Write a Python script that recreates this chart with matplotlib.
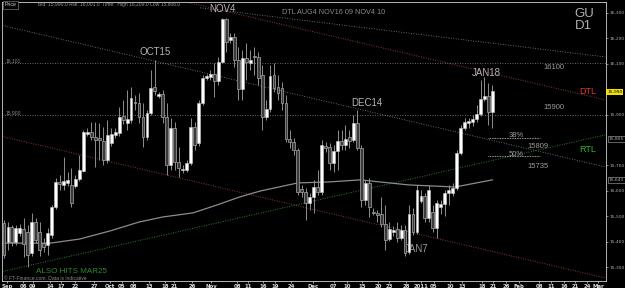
import numpy as np
import matplotlib.pyplot as plt
from matplotlib.transforms import blended_transform_factory

# daily GBP/USD candles, Sep 2010 - Jan 2011
opens = [15473, 15398, 15457, 15398, 15434, 15450, 15438, 15355, 15477, 15438,
         15394, 15387, 15426, 15536, 15635, 15623, 15631, 15623, 15619, 15646,
         15678, 15824, 15832, 15812, 15808, 15796, 15721, 15788, 15820, 15828,
         15894, 15867, 15879, 15950, 15946, 15891, 15812, 15906, 16009, 15973,
         15981, 15891, 15702, 15847, 15713, 15682, 15682, 15709, 15851, 15788,
         15946, 16044, 16048, 16060, 16032, 16107, 16276, 16194, 16206, 16115,
         16001, 16123, 16103, 16131, 16127, 16056, 15891, 15922, 16056, 16009,
         16005, 15946, 15804, 15792, 15761, 15607, 15595, 15552, 15576, 15615,
         15595, 15776, 15772, 15709, 15757, 15796, 15780, 15812, 15800, 15867,
         15768, 15564, 15631, 15517, 15513, 15509, 15469, 15410, 15438, 15450,
         15414, 15446, 15359, 15509, 15438, 15560, 15580, 15493, 15517, 15454,
         15536, 15548, 15591, 15591, 15611, 15749, 15847, 15867, 15871, 15883,
         15902, 15961, 15973, 15910]
closes = [15347, 15457, 15398, 15454, 15454, 15391, 15347, 15477, 15406, 15367,
          15379, 15434, 15536, 15635, 15627, 15639, 15643, 15552, 15646, 15682,
          15832, 15832, 15812, 15800, 15800, 15721, 15820, 15824, 15832, 15891,
          15879, 15883, 15965, 15946, 15891, 15812, 15906, 16005, 15993, 15981,
          15891, 15702, 15847, 15713, 15690, 15686, 15709, 15851, 15780, 15946,
          16044, 16052, 16060, 16032, 16107, 16276, 16186, 16206, 16115, 16001,
          16123, 16107, 16115, 16127, 16044, 15891, 15922, 16052, 16005, 15985,
          15946, 15804, 15792, 15761, 15595, 15595, 15552, 15576, 15615, 15595,
          15780, 15768, 15709, 15757, 15796, 15780, 15804, 15796, 15867, 15768,
          15564, 15631, 15536, 15513, 15505, 15469, 15406, 15450, 15446, 15414,
          15446, 15355, 15509, 15438, 15603, 15580, 15493, 15603, 15454, 15552,
          15548, 15591, 15603, 15611, 15749, 15847, 15871, 15875, 15883, 15902,
          15961, 15973, 15910, 15992]
highs = [15485, 15477, 15465, 15465, 15469, 15493, 15465, 15513, 15493, 15477,
         15414, 15454, 15544, 15650, 15662, 15733, 15674, 15690, 15662, 15741,
         15839, 15847, 15871, 15871, 15867, 15851, 15879, 15847, 15847, 15930,
         15958, 15997, 16009, 15977, 15985, 15946, 15918, 16076, 16115, 15989,
         15997, 15946, 15887, 15871, 15772, 15702, 15721, 15887, 15871, 15958,
         16056, 16060, 16076, 16103, 16127, 16280, 16280, 16221, 16221, 16166,
         16154, 16182, 16154, 16166, 16146, 16095, 15958, 16095, 16103, 16056,
         16028, 15977, 15839, 15808, 15768, 15623, 15611, 15591, 15643, 15682,
         15800, 15792, 15788, 15780, 15839, 15839, 15859, 15839, 15898, 15918,
         15780, 15643, 15650, 15532, 15524, 15576, 15544, 15477, 15461, 15477,
         15465, 15465, 15544, 15532, 15623, 15603, 15591, 15623, 15544, 15564,
         15564, 15603, 15623, 15631, 15761, 15859, 15887, 15887, 15898, 15938,
         16036, 16048, 16024, 16017]
lows = [15335, 15367, 15383, 15387, 15422, 15339, 15300, 15343, 15394, 15343,
        15359, 15347, 15414, 15528, 15603, 15603, 15619, 15536, 15611, 15639,
        15674, 15816, 15800, 15694, 15721, 15702, 15709, 15776, 15808, 15816,
        15863, 15839, 15867, 15918, 15867, 15772, 15800, 15898, 15977, 15965,
        15867, 15662, 15682, 15682, 15654, 15670, 15674, 15702, 15761, 15776,
        15938, 16036, 16036, 15969, 16017, 16103, 16146, 16182, 16087, 15958,
        15958, 16036, 16076, 16056, 16017, 15839, 15879, 15910, 15989, 15958,
        15918, 15792, 15768, 15741, 15583, 15576, 15485, 15524, 15513, 15583,
        15583, 15753, 15682, 15674, 15682, 15761, 15761, 15768, 15792, 15761,
        15536, 15544, 15497, 15505, 15477, 15457, 15367, 15402, 15422, 15398,
        15406, 15343, 15351, 15426, 15430, 15552, 15477, 15477, 15438, 15414,
        15509, 15501, 15544, 15580, 15603, 15741, 15839, 15847, 15855, 15871,
        15894, 15954, 15859, 15847]

# moving average (solid grey line), sampled at bar numbers
ma_bar = [-1, 11.6, 19, 26.7, 34, 40, 47.6, 53.6, 59.4, 64.5, 74, 82, 89.7, 102, 113.6, 123]
ma_val = [15394, 15394, 15410, 15442, 15477, 15497, 15513, 15544, 15576, 15599,
          15631, 15635, 15643, 15623, 15615, 15643]

# x axis labels and the bar number they sit under
date_labels = ['Sep', '06', '09', '14', '17', '22', '27', 'Oct', '05', '08', '13', '18', '21', '26',
               'Nov', '08', '11', '16', '19', '24', 'Dec', '07', '10', '15', '20', '23', '28',
               '2011', '05', '10', '13', '18', '21', '26', 'Feb', '08', '11', '16', '21', '24', 'Mar']
date_pos = [0.8, 4.8, 7.3, 11.6, 14.4, 17.9, 22.7, 26.7, 29.7, 32.5, 36.5, 40.6, 42.8, 47.4,
            52.1, 58.7, 61.5, 65.2, 68.3, 72.3, 77.8, 83.1, 86.4, 90.2, 94.2, 97.0, 101.3,
            105.0, 108.3, 112.3, 115.4, 120.4, 123.2, 126.4, 129.7, 134.8, 137.8, 141.1, 143.8, 146.9, 149.6]

price_ticks = [15300, 15400, 15500, 15600, 15700, 15900, 16100, 16200, 16300]
last_price = 15990

# trend lines: (bar0, price0, bar1, price1)
dtl_top = (43.6, 16351, 151.4, 15958)
dtl_long = (49.4, 16320, 151.4, 16127)
grey_tl = (-1, 16253, 151.4, 15694)
red_low = (-1, 15816, 151.4, 15257)
rtl = (-1, 15280, 151.4, 15820)
fib_levels = [15809, 15735]

BG = 'black'
fig = plt.figure(figsize=(6.25, 2.88), dpi=100, facecolor=BG)
ax = fig.add_axes([2 / 625, 7 / 288, 604 / 625, 279 / 288], facecolor=BG)
ax.set_xlim(-0.5, 151.6)
ax.set_ylim(15245, 16343)

# trend lines
def tline(t, **kw):
    ax.plot([t[0], t[2]], [t[1], t[3]], **kw)

tline(grey_tl, color='#8a8a8a', lw=0.6, ls=(0, (1, 2)))
tline(dtl_long, color='#8a8a8a', lw=0.6, ls=(0, (1, 2)))
tline(dtl_top, color='#8a3a30', lw=0.7, ls=(0, (1, 1.5)))
tline(red_low, color='#8a3a30', lw=0.7, ls=(0, (1, 1.5)))
tline(rtl, color='#2e7d2e', lw=0.7, ls=(0, (1, 1.5)))

for lvl in [16101, 15900]:
    ax.axhline(lvl, color='#8a8a8a', lw=0.6, ls=(0, (1, 2)))
for lvl in fib_levels:
    ax.plot([122, 135], [lvl, lvl], color='#cfcfcf', lw=0.6, ls=(0, (1, 1)))

ax.plot(ma_bar, ma_val, color='#8c8c8c', lw=0.9)

# candles
x = np.arange(len(opens))
o = np.array(opens)
c = np.array(closes)
up = c >= o
ax.vlines(x, lows, highs, color='#8e8e8e', lw=0.7, zorder=3)
bot = np.minimum(o, c)
hgt = np.maximum(np.abs(c - o), 5)
ax.bar(x[up], hgt[up], bottom=bot[up], width=0.72, color='white', edgecolor='#c8c8c8', lw=0.4, zorder=4)
ax.bar(x[~up], hgt[~up], bottom=bot[~up], width=0.72, color='#3a3a3a', edgecolor='#a8a8a8', lw=0.5, zorder=4)

# annotations
txt = dict(color='#b4b4b4', fontsize=7, family='Liberation Sans')
ax.text(55, 16305, 'NOV4', ha='center', **txt)
ax.text(38, 16135, 'OCT15', ha='center', **txt)
ax.text(91.5, 15935, 'DEC14', ha='center', **txt)
ax.text(121.5, 16050, 'JAN18', ha='center', **txt)
ax.text(104, 15360, 'JAN7', ha='center', color='#9a9a9a', fontsize=7, family='Liberation Sans')
ax.text(70, 16295, 'DTL AUG4 NOV16 09 NOV4 10', color='#8a8a8a', fontsize=5.2, family='Liberation Sans')
ax.text(138.6, 16080, '16100', color='#9a9a9a', fontsize=5.5, ha='center', family='Liberation Sans')
ax.text(138.6, 15920, '15900', color='#9a9a9a', fontsize=5.5, ha='center', family='Liberation Sans')
ax.text(129, 15813, '38%', color='#9a9a9a', fontsize=5.5, ha='center', family='Liberation Sans')
ax.text(134.5, 15770, '15809', color='#9a9a9a', fontsize=5.5, ha='center', family='Liberation Sans')
ax.text(129, 15738, '50%', color='#9a9a9a', fontsize=5.5, ha='center', family='Liberation Sans')
ax.text(134.5, 15690, '15735', color='#9a9a9a', fontsize=5.5, ha='center', family='Liberation Sans')
ax.text(147, 15990, 'DTL', color='#e03a2a', fontsize=6.5, ha='center', va='center', family='Liberation Sans')
ax.text(147, 15764, 'RTL', color='#2fb82f', fontsize=6.5, ha='center', va='center', family='Liberation Sans')
ax.text(8, 15275, 'ALSO HITS MAR25', color='#2e8b2e', fontsize=5.8, family='Liberation Sans')
ax.text(0, 15250, '\u00a9 FT-Finance.com. Data is indicative', color='#8a8a8a', fontsize=3.6, family='Liberation Sans')
ax.text(146, 16297, 'GU', color='#b0b0b0', fontsize=9.5, ha='center', va='center', family='Liberation Sans')
ax.text(146, 16248, 'D1', color='#b0b0b0', fontsize=9.5, ha='center', va='center', family='Liberation Sans')
ax.text(0.3, 16104, '16,101', color='#8a8a8a', fontsize=3.6, family='Liberation Sans')
ax.text(0.3, 15903, '15,900', color='#8a8a8a', fontsize=3.6, family='Liberation Sans')
ax.text(0.2, 16332, 'Price', color='#cccccc', fontsize=3.8, va='center', family='Liberation Sans',
        bbox=dict(facecolor='black', edgecolor='#777777', lw=0.5, pad=1.2))
ax.text(8.5, 16332, 'Bid: 15,990.0 Ask: 16,001.0  Time:  High 16,209.0 Low 15,806.0',
        color='#9a9a9a', fontsize=3.6, va='center', family='Liberation Sans')

# right price axis
ax.yaxis.tick_right()
ax.set_yticks(price_ticks)
ax.set_yticklabels([f'{p:,}' for p in price_ticks])
ax.tick_params(axis='y', colors='#b0b0b0', labelsize=3.2, length=1.5, width=0.5, pad=0.8)
tr = blended_transform_factory(ax.transAxes, ax.transData)
ax.text(1.002, last_price, f'{last_price:,}', transform=tr, fontsize=3.2, color='black', va='center',
        bbox=dict(facecolor='#f0e000', edgecolor='none', pad=0.6))
for p in [15805, 15643]:
    ax.text(1.004, p, f'{p:,}', transform=tr, fontsize=3.2, color='#b0b0b0', va='center',
            bbox=dict(facecolor='black', edgecolor='#b0b0b0', lw=0.4, pad=0.6))

# date axis
ax.set_xticks(date_pos)
ax.set_xticklabels(date_labels)
ax.tick_params(axis='x', colors='#dddddd', labelsize=3.9, length=1.5, width=0.5, pad=0.5)
for lab in ax.get_xticklabels():
    lab.set_fontweight('bold')

for s in ax.spines.values():
    s.set_color('#cfcfcf')
    s.set_linewidth(0.6)

fig.savefig('out.png', dpi=100, facecolor=BG)
